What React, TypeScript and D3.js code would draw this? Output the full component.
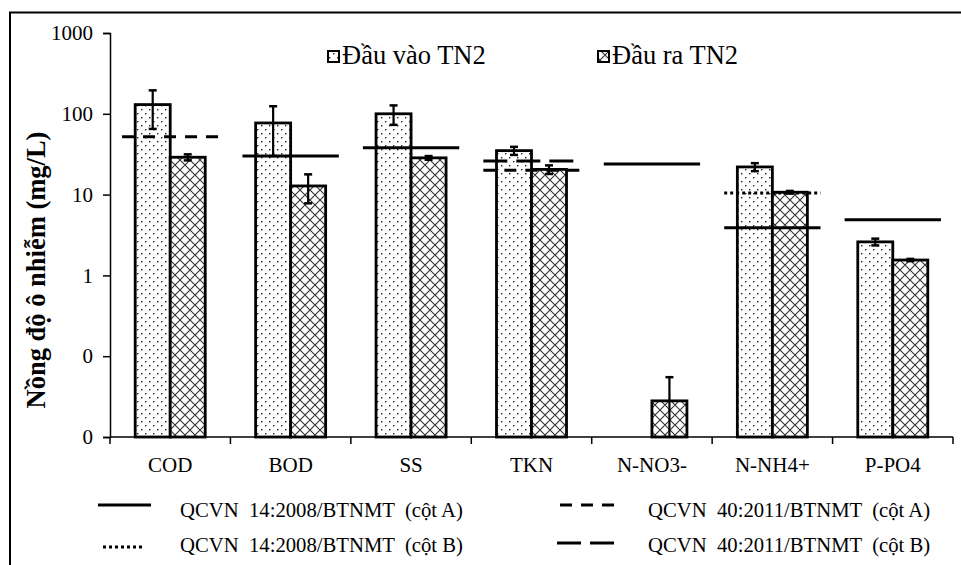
import React, { useRef, useEffect } from 'react';
import * as d3 from 'd3';

// parameters on the x axis
const categories = ['COD', 'BOD', 'SS', 'TKN', 'N-NO3-', 'N-NH4+', 'P-PO4'];

// Đầu vào TN2 (influent), mean and error (mg/L); null = no bar
const inputMean = [130, 77, 100, 35, null, 22, 2.6];
const inputErr = [65, 47, 27, 4, null, 2.5, 0.25];

// Đầu ra TN2 (effluent)
const outputMean = [29, 12.8, 28.5, 20.5, 0.028, 10.7, 1.55];
const outputErr = [2.5, 5, 1.5, 2.5, 0.027, 0.4, 0.05];

// standard limits drawn as horizontal lines (null = not drawn)
const qcvn14A = [null, 30, 38, null, 24, 3.9, 4.9];
const qcvn14B = [null, null, null, null, null, 10.5, null];
const qcvn40A = [52, null, null, 20, null, null, null];
const qcvn40B = [null, null, null, 26, null, null, null];

const yTicks = [0.01, 0.1, 1, 10, 100, 1000];

const FONT = '"Liberation Serif", "Times New Roman", serif';

export default function App() {
  const svgRef = useRef<SVGSVGElement | null>(null);

  useEffect(() => {
    const width = 961;
    const height = 565;
    const margin = { top: 33, right: 8, bottom: 128, left: 110 };
    const plotBottom = height - margin.bottom;

    const svg = d3.select(svgRef.current);
    svg.selectAll('*').remove();
    svg.attr('width', width).attr('height', height);

    svg.append('rect').attr('width', width).attr('height', height).attr('fill', '#fff');

    // patterns
    const defs = svg.append('defs');
    const dots = defs
      .append('pattern')
      .attr('id', 'dots')
      .attr('patternUnits', 'userSpaceOnUse')
      .attr('width', 8)
      .attr('height', 8);
    dots.append('rect').attr('width', 8).attr('height', 8).attr('fill', '#fff');
    dots.append('rect').attr('x', 1).attr('y', 1).attr('width', 1.4).attr('height', 1.4).attr('fill', '#222');
    dots.append('rect').attr('x', 5).attr('y', 5).attr('width', 1.4).attr('height', 1.4).attr('fill', '#222');

    const hatch = defs
      .append('pattern')
      .attr('id', 'hatch')
      .attr('patternUnits', 'userSpaceOnUse')
      .attr('width', 10)
      .attr('height', 10);
    hatch.append('rect').attr('width', 10).attr('height', 10).attr('fill', '#fff');
    hatch
      .append('path')
      .attr('d', 'M0,0L10,10M10,0L0,10M-5,5L5,15M5,-5L15,5M-5,5L5,-5M5,15L15,5')
      .attr('stroke', '#333')
      .attr('stroke-width', 1.1);

    // frame
    svg
      .append('path')
      .attr('d', `M10,${height}V12.5H${width}`)
      .attr('fill', 'none')
      .attr('stroke', '#000')
      .attr('stroke-width', 2);

    const x = d3
      .scaleBand<string>()
      .domain(categories)
      .range([margin.left, width - margin.right]);
    const xSub = d3
      .scaleBand<string>()
      .domain(['in', 'out'])
      .range([0, x.bandwidth()])
      .paddingOuter(0.72);
    const y = d3.scaleLog().domain([0.01, 1000]).range([plotBottom, margin.top]);

    const g = svg.append('g');

    // bars
    const series = [
      { key: 'in', mean: inputMean, err: inputErr, fill: 'url(#dots)' },
      { key: 'out', mean: outputMean, err: outputErr, fill: 'url(#hatch)' },
    ];

    series.forEach((s) => {
      categories.forEach((c, i) => {
        const v = s.mean[i];
        if (v == null) return;
        g.append('rect')
          .attr('x', (x(c) as number) + (xSub(s.key) as number))
          .attr('y', y(v))
          .attr('width', xSub.bandwidth())
          .attr('height', plotBottom - y(v))
          .attr('fill', s.fill)
          .attr('stroke', '#000')
          .attr('stroke-width', 2.8);
      });
    });

    // standard lines
    const limits = [
      { values: qcvn14A, dash: null },
      { values: qcvn14B, dash: '3,3' },
      { values: qcvn40A, dash: '12,9' },
      { values: qcvn40B, dash: '24,9' },
    ];
    const half = x.bandwidth() * 0.4;
    limits.forEach((l) => {
      categories.forEach((c, i) => {
        const v = l.values[i];
        if (v == null) return;
        const cx = (x(c) as number) + x.bandwidth() / 2;
        g.append('line')
          .attr('x1', cx - half)
          .attr('x2', cx + half)
          .attr('y1', y(v))
          .attr('y2', y(v))
          .attr('stroke', '#000')
          .attr('stroke-width', 3)
          .attr('stroke-dasharray', l.dash);
      });
    });

    // error bars
    series.forEach((s) => {
      categories.forEach((c, i) => {
        const v = s.mean[i];
        const e = s.err[i];
        if (v == null || e == null) return;
        const cx = (x(c) as number) + (xSub(s.key) as number) + xSub.bandwidth() / 2;
        const lo = v - e;
        const yHi = y(v + e);
        const yLo = lo > 0.01 ? y(lo) : plotBottom;
        g.append('line')
          .attr('x1', cx).attr('x2', cx)
          .attr('y1', yHi).attr('y2', yLo)
          .attr('stroke', '#000').attr('stroke-width', 2.2);
        g.append('line')
          .attr('x1', cx - 4).attr('x2', cx + 4)
          .attr('y1', yHi).attr('y2', yHi)
          .attr('stroke', '#000').attr('stroke-width', 2.5);
        if (lo > 0.01) {
          g.append('line')
            .attr('x1', cx - 4).attr('x2', cx + 4)
            .attr('y1', yLo).attr('y2', yLo)
            .attr('stroke', '#000').attr('stroke-width', 2.5);
        }
      });
    });

    // y axis
    const yAxis = svg
      .append('g')
      .attr('transform', `translate(${margin.left},0)`)
      .call(
        d3
          .axisLeft(y)
          .tickValues(yTicks)
          .tickSize(7)
          .tickPadding(10)
          .tickFormat((d) => d3.format('.0f')(d as number))
      );
    yAxis.select('.domain').attr('stroke-width', 1.5);
    yAxis.selectAll('line').attr('stroke-width', 1.5);
    yAxis
      .selectAll('text')
      .attr('font-family', FONT)
      .attr('font-size', 21)
      .attr('fill', '#000');

    // x axis: ticks on band edges, labels at centres
    const xAxis = svg.append('g').attr('transform', `translate(0,${plotBottom})`);
    xAxis
      .append('line')
      .attr('x1', margin.left)
      .attr('x2', width - margin.right)
      .attr('stroke', '#000')
      .attr('stroke-width', 1.5);
    const edges = categories.map((c) => x(c) as number).concat([x.range()[1]]);
    xAxis
      .selectAll('.edge')
      .data(edges)
      .join('line')
      .attr('class', 'edge')
      .attr('x1', (d) => d)
      .attr('x2', (d) => d)
      .attr('y2', 7)
      .attr('stroke', '#000')
      .attr('stroke-width', 1.5);
    xAxis
      .selectAll('.lab')
      .data(categories)
      .join('text')
      .attr('class', 'lab')
      .attr('x', (d) => (x(d) as number) + x.bandwidth() / 2)
      .attr('y', 35)
      .attr('text-anchor', 'middle')
      .attr('font-family', FONT)
      .attr('font-size', 21)
      .text((d) => d);

    // y title
    svg
      .append('text')
      .attr('transform', 'translate(45,270) rotate(-90)')
      .attr('text-anchor', 'middle')
      .attr('font-family', FONT)
      .attr('font-weight', 'bold')
      .attr('font-size', 26.5)
      .text('Nồng độ ô nhiễm (mg/L)');

    // top legend
    const topLegend = [
      { label: 'Đầu vào TN2', fill: 'url(#dots)', x: 328 },
      { label: 'Đầu ra TN2', fill: 'url(#hatch)', x: 598 },
    ];
    topLegend.forEach((l) => {
      svg
        .append('rect')
        .attr('x', l.x)
        .attr('y', 51)
        .attr('width', 11)
        .attr('height', 11)
        .attr('fill', l.fill)
        .attr('stroke', '#000')
        .attr('stroke-width', 2);
      svg
        .append('text')
        .attr('x', l.x + 14)
        .attr('y', 64)
        .attr('font-family', FONT)
        .attr('font-size', 26.5)
        .text(l.label);
    });

    // bottom legend
    const bottomLegend = [
      { label: 'QCVN  14:2008/BTNMT  (cột A)', dash: null, x: 98, w: 53, ly: 505, ty: 517, tx: 180 },
      { label: 'QCVN  14:2008/BTNMT  (cột B)', dash: '3,3', x: 103, w: 40, ly: 547, ty: 552, tx: 180 },
      { label: 'QCVN  40:2011/BTNMT  (cột A)', dash: '12,9', x: 560, w: 54, ly: 505, ty: 517, tx: 648 },
      { label: 'QCVN  40:2011/BTNMT  (cột B)', dash: '24,9', x: 557, w: 57, ly: 543, ty: 552, tx: 648 },
    ];
    bottomLegend.forEach((l) => {
      svg
        .append('line')
        .attr('x1', l.x)
        .attr('x2', l.x + l.w)
        .attr('y1', l.ly)
        .attr('y2', l.ly)
        .attr('stroke', '#000')
        .attr('stroke-width', 3)
        .attr('stroke-dasharray', l.dash);
      svg
        .append('text')
        .attr('x', l.tx)
        .attr('y', l.ty)
        .attr('font-family', FONT)
        .attr('font-size', 20.7)
        .style('white-space', 'pre')
        .text(l.label);
    });
  }, []);

  return (
    <div style={{ position: 'absolute', left: 0, top: 0 }}>
      <svg ref={svgRef} style={{ display: 'block' }} />
    </div>
  );
}
